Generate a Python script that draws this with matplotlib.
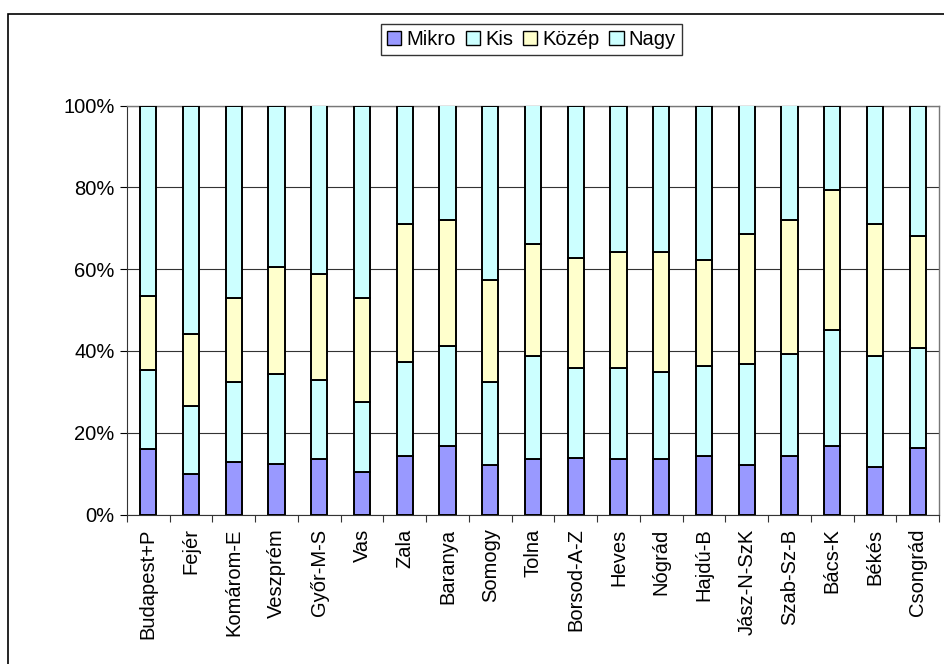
import numpy as np
import matplotlib
matplotlib.use("Agg")
import matplotlib.pyplot as plt
from matplotlib.patches import Rectangle, Patch

plt.rcParams['font.family'] = ['Liberation Sans', 'DejaVu Sans']

megyek = ["Budapest+P", "Fejér", "Komárom-E", "Veszprém", "Győr-M-S", "Vas", "Zala",
          "Baranya", "Somogy", "Tolna", "Borsod-A-Z", "Heves", "Nógrád", "Hajdú-B",
          "Jász-N-SzK", "Szab-Sz-B", "Bács-K", "Békés", "Csongrád"]

# cumulative tops (%)
mikro_top = [16.1, 9.9, 12.9, 12.3, 13.5, 10.4, 14.2, 16.7, 12.2, 13.5, 13.8, 13.5, 13.5, 14.3, 12.2, 14.3, 16.7, 11.7, 16.2]
kis_top = [35.3, 26.5, 32.5, 34.3, 32.9, 27.4, 37.3, 41.2, 32.5, 38.7, 35.7, 35.7, 34.8, 36.3, 36.9, 39.2, 45.2, 38.7, 40.8]
kozep_top = [53.4, 44.2, 52.9, 60.4, 58.8, 52.9, 71.0, 72.0, 57.3, 66.1, 62.6, 64.2, 64.2, 62.2, 68.7, 72.0, 79.3, 71.0, 68.2]

mikro = np.array(mikro_top)
kis = np.array(kis_top) - mikro
kozep = np.array(kozep_top) - np.array(kis_top)
nagy = 100 - np.array(kozep_top)

series = [("Mikro", mikro, "#9999FF"), ("Kis", kis, "#CCFFFF"),
          ("Közép", kozep, "#FFFFCC"), ("Nagy", nagy, "#CCFFFF")]

fig = plt.figure(figsize=(9.44, 6.64), dpi=100)
# outer chart frame (cropped at right and bottom)
fig.patches.append(Rectangle((8/944, -0.1), 1.2, 1 - 14/664 + 0.1, transform=fig.transFigure,
                             fill=False, edgecolor="black", linewidth=1.2))

ax = fig.add_axes([127/944, 1 - 514.5/664, (939 - 127)/944, (514.5 - 105.5)/664])
x = np.arange(len(megyek))
bottom = np.zeros(len(megyek))
for name, vals, col in series:
    ax.bar(x, vals, 0.38, bottom=bottom, color=col, edgecolor="black", linewidth=1.4, zorder=3)
    bottom += vals

ax.set_xlim(-0.5, len(megyek) - 0.5)
ax.set_ylim(0, 100)
ax.set_yticks([0, 20, 40, 60, 80, 100])
ax.set_yticklabels(["0%", "20%", "40%", "60%", "80%", "100%"], fontsize=14.5)
ax.yaxis.grid(True, color="#333333", linewidth=0.8, zorder=0)
ax.set_xticks(x)
ax.set_xticklabels(megyek, rotation=90, fontsize=14.5)
ax.tick_params(axis="x", which="major", length=0, pad=10)
ax.set_xticks(np.arange(-0.5, len(megyek)), minor=True)
ax.tick_params(axis="x", which="minor", length=5, width=0.8, color="#333333")
ax.tick_params(axis="y", length=5, width=0.8, pad=4)
for s in ["top", "right"]:
    ax.spines[s].set_color("#777777")
    ax.spines[s].set_linewidth(1.0)
ax.spines["left"].set_color("#333333")
ax.spines["bottom"].set_color("#333333")

handles = [Patch(facecolor=c, edgecolor="black", linewidth=1.0, label=n) for n, v, c in series]
leg = fig.legend(handles=handles, loc="center", bbox_to_anchor=(531.5/944, 1 - 39.5/664), ncol=4,
                 fontsize=14.5, frameon=True, fancybox=False, handlelength=0.7, handleheight=0.7,
                 handletextpad=0.25, columnspacing=0.5, borderpad=0.3, borderaxespad=0)
leg.get_frame().set_edgecolor("black")
leg.get_frame().set_linewidth(1.0)

fig.savefig("out.png", dpi=100)
